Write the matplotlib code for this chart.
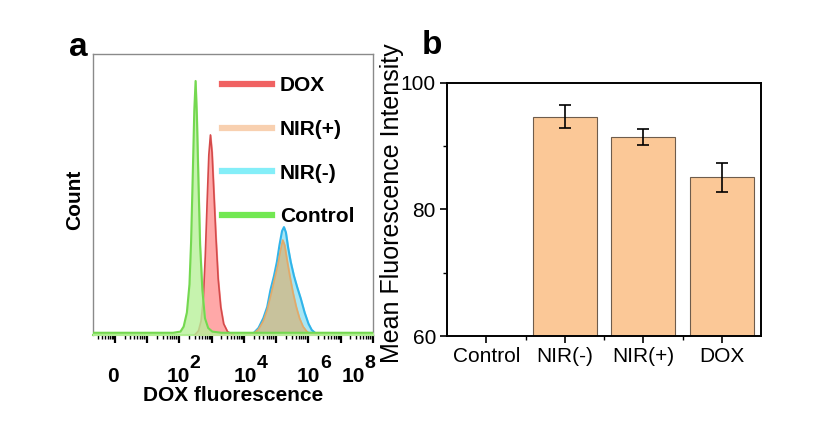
import numpy as np
import matplotlib
matplotlib.use("Agg")
import matplotlib.pyplot as plt
from matplotlib.lines import Line2D
from matplotlib.transforms import offset_copy

plt.rcParams['font.family'] = ['Liberation Sans', 'DejaVu Sans']

# ---------------- Panel a data (x in decades, y normalized count) ----------------
green_x = [-0.7, 1.8, 2.03, 2.13, 2.23, 2.31, 2.36, 2.41, 2.46, 2.50, 2.54, 2.59, 2.64, 2.71, 2.79, 2.89, 3.02, 3.3, 8.0]
green_y = [0.8, 0.8, 1.2, 3, 8, 18, 33, 56, 80, 90.4, 78, 54, 32, 16, 6, 2.5, 1.2, 0.8, 0.8]

red_x = [2.47, 2.59, 2.67, 2.74, 2.80, 2.86, 2.91, 2.96, 3.01, 3.07, 3.13, 3.20, 3.28, 3.37, 3.49, 3.67]
red_y = [0, 1.5, 5, 13, 28, 48, 64, 71.2, 65, 50, 35, 20, 10, 4, 1.2, 0]

blue_x = [4.1, 4.3, 4.45, 4.6, 4.72, 4.82, 4.93, 5.02, 5.1, 5.18, 5.24, 5.3, 5.37, 5.45, 5.55, 5.65, 5.76, 5.88, 6.0, 6.1, 6.25, 6.4]
blue_y = [0, 0.7, 2.5, 6, 10, 16, 21, 26, 32, 37, 38.4, 36.5, 31, 26, 21, 17, 13, 8, 4, 1.8, 0.3, 0]

orange_x = [4.1, 4.3, 4.45, 4.6, 4.72, 4.85, 4.95, 5.05, 5.13, 5.2, 5.26, 5.33, 5.42, 5.52, 5.62, 5.72, 5.83, 5.95, 6.1, 6.3]
orange_y = [0, 0.6, 2, 5, 9, 15, 20, 25, 30, 33.8, 32, 27, 21, 15, 10, 6, 3, 1.2, 0.2, 0]

legend_labels = ['DOX', 'NIR(+)', 'NIR(-)', 'Control']
zero_label_pos = -0.06
pow_label_pos = [2.32, 4.4, 6.35, 7.74]
pow_exponents = ['2', '4', '6', '8']

# ---------------- Panel b data ----------------
categories = ['Control', 'NIR(-)', 'NIR(+)', 'DOX']
mfi = [np.nan, 94.7, 91.5, 85.1]
mfi_err = [np.nan, 1.8, 1.25, 2.3]

fig = plt.figure(figsize=(8.26, 4.36), dpi=100)

# ---------------- Panel a ----------------
ax = fig.add_axes([93/826, 1-335/436, 280/826, 281/436])
ax.fill_between(blue_x, blue_y, color='#a8e6f4', zorder=1)
ax.plot(blue_x, blue_y, color='#30b4ea', lw=1.5, zorder=2)
ax.fill_between(orange_x, orange_y, color='#c8c29c', zorder=3)
ax.plot(orange_x, orange_y, color='#e2aa6a', lw=1.2, zorder=4)
ax.fill_between(red_x, red_y, color='#ffa4a4', alpha=0.95, zorder=5)
ax.plot(red_x, red_y, color='#d44a4a', lw=1.2, zorder=6)
ax.fill_between(green_x, green_y, color='#b8f09a', alpha=0.8, zorder=7)
ax.plot(green_x, green_y, color='#74d850', lw=1.5, zorder=8)

ax.set_xlim(-0.68, 8.0)
ax.set_ylim(0, 100)
ax.set_yticks([])
for s in ['left', 'top', 'right']:
    ax.spines[s].set_color('#8a8a8a')
    ax.spines[s].set_linewidth(1.0)
ax.spines['bottom'].set_color('#80e060')
ax.spines['bottom'].set_linewidth(1.5)

ax.set_xticks(range(0, 9))
minor = []
for n in range(-1, 8):
    for k in range(2, 10):
        v = n + np.log10(k)
        if -0.68 < v < 8.0:
            minor.append(v)
ax.set_xticks(minor, minor=True)
ax.tick_params(axis='x', which='major', direction='out', length=6, width=1.6, color='black', labelbottom=False)
ax.tick_params(axis='x', which='minor', direction='out', length=3, width=1.0, color='black')

xt = ax.get_xaxis_transform()
label_y = -0.147
ax.text(zero_label_pos, label_y, '0', transform=xt, ha='center', va='center',
        fontsize=15, fontweight='bold')
sup_t = offset_copy(xt, fig=fig, x=0, y=13, units='dots')
for p, e in zip(pow_label_pos, pow_exponents):
    ax.text(p, label_y, '10', transform=xt, ha='right', va='center', fontsize=15, fontweight='bold')
    ax.text(p, label_y, e, transform=sup_t, ha='left', va='center', fontsize=14, fontweight='bold')
ax.text(0.5, -0.215, 'DOX fluorescence', transform=ax.transAxes, ha='center', va='center',
        fontsize=15, fontweight='bold')

handles = [Line2D([], [], color=c, lw=4.5) for c in ['#f06262', '#f8d0b0', '#84eef8', '#72e852']]
leg = ax.legend(handles, legend_labels, loc='upper left', bbox_to_anchor=(0.46, 0.92),
                frameon=False, handlelength=2.4, handletextpad=0.38, labelspacing=1.18,
                borderpad=0, borderaxespad=0, prop={'weight': 'bold', 'size': 15})

fig.text(75/826, 1-200/436, 'Count', rotation=90, ha='center', va='center',
         fontsize=15, fontweight='bold')
fig.text(78/826, 1-47/436, 'a', ha='center', va='center', fontsize=24, fontweight='bold')

# ---------------- Panel b ----------------
bx = fig.add_axes([447/826, 1-336/436, 314/826, 253/436])
xpos = np.arange(len(categories))
bx.bar(xpos, mfi, width=0.82, color='#fbc897', edgecolor='#6e5c4c', linewidth=0.8, zorder=2)
bx.errorbar(xpos, mfi, yerr=mfi_err, fmt='none', ecolor='black', elinewidth=1.2,
            capsize=4, capthick=1.2, zorder=3)
bx.set_xlim(-0.5, 3.5)
bx.set_ylim(60, 100)
bx.set_yticks([60, 80, 100])
bx.set_yticks([70, 90], minor=True)
bx.set_xticks(xpos)
bx.set_xticklabels(categories)
bx.set_xticks([0.5, 1.5, 2.5], minor=True)
for s in bx.spines.values():
    s.set_linewidth(1.4)
bx.tick_params(which='major', direction='out', length=5, width=1.2, labelsize=15, pad=3)
bx.tick_params(which='minor', direction='out', length=3, width=1.0)

fig.text(392/826, 1-203/436, 'Mean Fluorescence Intensity', rotation=90, ha='center',
         va='center', fontsize=18)
fig.text(432/826, 1-45/436, 'b', ha='center', va='center', fontsize=24, fontweight='bold')

fig.savefig('out.png', dpi=100)
